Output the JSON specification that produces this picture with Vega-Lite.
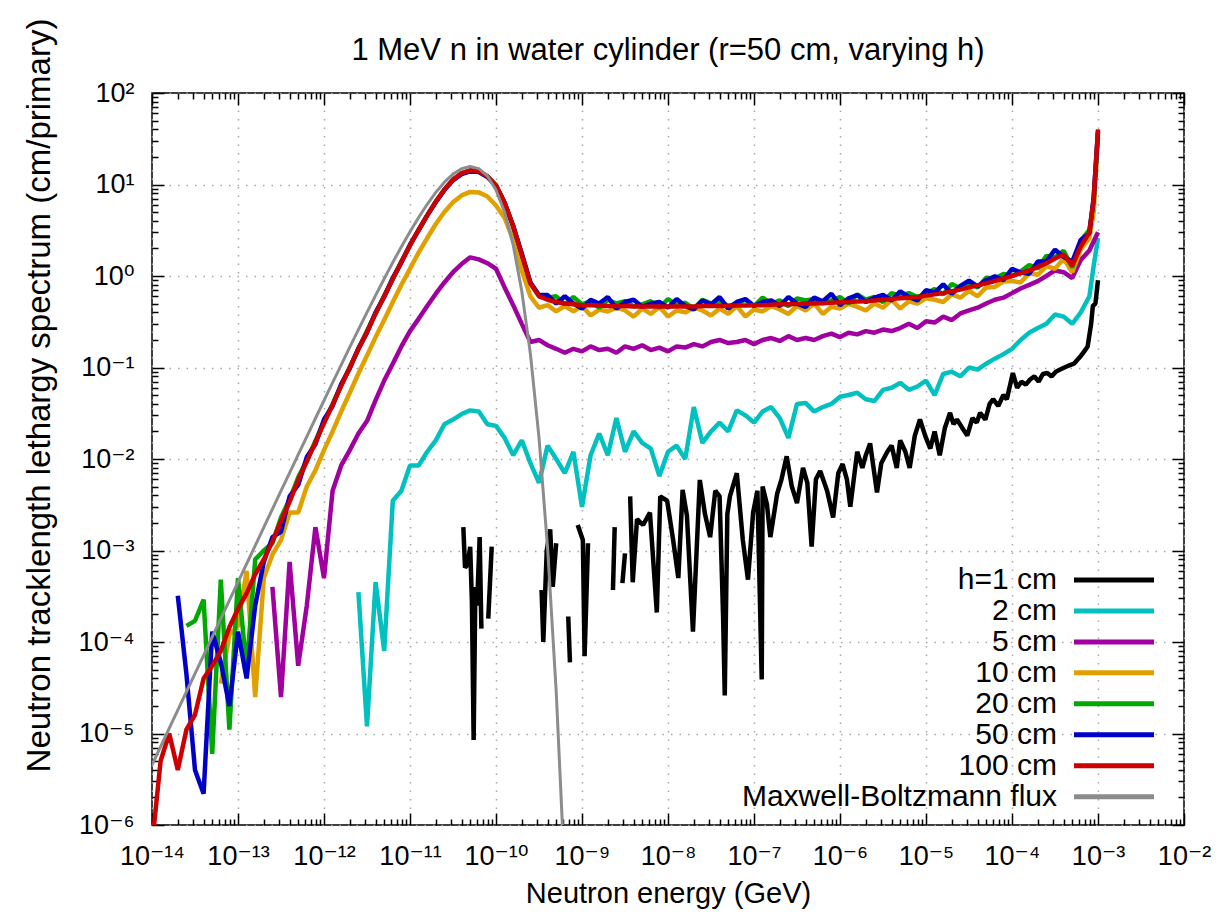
{
"$schema":"https://vega.github.io/schema/vega-lite/v6.json",
"width":1032,"height":732,
"autosize":{"type":"none"},
"padding":{"left":152,"top":93,"right":38,"bottom":95},
"background":"white",
"title":{"text":"1 MeV n in water cylinder (r=50 cm, varying h)","fontSize":31,"fontWeight":"normal","font":"Liberation Sans","color":"black","anchor":"middle","frame":"group","offset":35,"dy":122,"baseline":"alphabetic"},
"config":{
"view":{"stroke":"black","strokeWidth":1.5},
"font":"Liberation Sans",
"axis":{"domain":false,"labelColor":"black","tickColor":"black","titleColor":"black","titleFontWeight":"normal","labelFont":"Liberation Sans, DejaVu Sans","titleFont":"Liberation Sans"},
"legend":{"orient":"none","legendX":947,"legendY":472,"direction":"vertical","symbolType":"M-4,0H4","symbolSize":400,"symbolStrokeWidth":5,"labelFontSize":30,"labelFont":"Liberation Sans","labelColor":"black","labelAlign":"right","labelOffset":-72,"rowPadding":0.95,"padding":0,"labelLimit":600}
},
"datasets":{
"main":[
{"e":1e-14,"c100":6e-7,"mb":4.53e-6},
{"e":1.259e-14,"c100":5e-6,"mb":7.18e-6},
{"e":1.585e-14,"c100":1e-5,"mb":1.14e-5},
{"e":1.995e-14,"c50":3.2e-4,"c100":4e-6,"mb":1.8e-5},
{"e":2.512e-14,"c20":1.5e-4,"c50":4.5e-5,"c100":1.1e-5,"mb":2.86e-5},
{"e":3.162e-14,"c20":1.7e-4,"c50":4e-6,"c100":1.6e-5,"mb":4.52e-5},
{"e":3.981e-14,"c20":2.9e-4,"c50":2.2e-6,"c100":4e-5,"mb":7.16e-5},
{"e":5.012e-14,"c20":6e-6,"c50":1.3e-4,"c100":5.5e-5,"mb":1.135e-4},
{"e":6.31e-14,"c10":3.5e-5,"c20":4.8e-4,"c50":6e-5,"c100":8e-5,"mb":1.8e-4},
{"e":7.943e-14,"c10":1.2e-4,"c20":1.1e-5,"c50":2e-5,"c100":1.45e-4,"mb":2.85e-4},
{"e":1e-13,"c10":1.5e-4,"c20":5e-4,"c50":1.3e-4,"c100":2.3e-4,"mb":4.51e-4},
{"e":1.259e-13,"c10":6e-4,"c20":5e-5,"c50":4e-5,"c100":3.4e-4,"mb":7.14e-4},
{"e":1.585e-13,"c10":2.5e-5,"c20":8e-4,"c50":2.5e-4,"c100":5.5e-4,"mb":1.13e-3},
{"e":1.995e-13,"c10":5e-4,"c20":1e-3,"c50":7.5e-4,"c100":8e-4,"mb":1.79e-3},
{"e":2.512e-13,"c5":4e-4,"c10":9e-4,"c20":1.2e-3,"c50":1.4e-3,"c100":1.25e-3,"mb":2.83e-3},
{"e":3.162e-13,"c5":2.5e-5,"c10":1.3e-3,"c20":2.3e-3,"c50":1.6e-3,"c100":2.1e-3,"mb":4.48e-3},
{"e":3.981e-13,"c5":7.5e-4,"c10":2.6e-3,"c20":3.6e-3,"c50":3.9e-3,"c100":3.4e-3,"mb":7.07e-3},
{"e":5.012e-13,"c5":5.5e-5,"c10":2.6e-3,"c20":6.3e-3,"c50":5.2e-3,"c100":5.9e-3,"mb":0.01114},
{"e":6.31e-13,"c5":2.5e-4,"c10":5e-3,"c20":9.6e-3,"c50":0.0105,"c100":9.4e-3,"mb":0.01758},
{"e":7.943e-13,"c5":1.8e-3,"c10":7.5e-3,"c20":0.0158,"c50":0.0145,"c100":0.0152,"mb":0.0277},
{"e":1e-12,"c5":5e-4,"c10":0.0125,"c20":0.0255,"c50":0.027,"c100":0.0245,"mb":0.0436},
{"e":1.259e-12,"c5":4.5e-3,"c10":0.02,"c20":0.04,"c50":0.038,"c100":0.039,"mb":0.0683},
{"e":1.585e-12,"c5":8.5e-3,"c10":0.033,"c20":0.064,"c50":0.066,"c100":0.063,"mb":0.107},
{"e":1.995e-12,"c5":0.0125,"c10":0.053,"c20":0.101,"c50":0.098,"c100":0.1,"mb":0.167},
{"e":2.512e-12,"c2":3.5e-4,"c5":0.019,"c10":0.086,"c20":0.16,"c50":0.162,"c100":0.158,"mb":0.259},
{"e":3.162e-12,"c2":1.2e-5,"c5":0.026,"c10":0.135,"c20":0.25,"c50":0.24,"c100":0.245,"mb":0.4},
{"e":3.981e-12,"c2":4.5e-4,"c5":0.044,"c10":0.215,"c20":0.39,"c50":0.4,"c100":0.39,"mb":0.614},
{"e":5.012e-12,"c2":8e-5,"c5":0.072,"c10":0.33,"c20":0.61,"c50":0.59,"c100":0.6,"mb":0.933},
{"e":6.31e-12,"c2":3.5e-3,"c5":0.11,"c10":0.52,"c20":0.94,"c50":0.95,"c100":0.93,"mb":1.41},
{"e":7.943e-12,"c2":4.5e-3,"c5":0.17,"c10":0.8,"c20":1.44,"c50":1.4,"c100":1.43,"mb":2.09},
{"e":1e-11,"c2":8.5e-3,"c5":0.25,"c10":1.2,"c20":2.17,"c50":2.2,"c100":2.16,"mb":3.05},
{"e":1.259e-11,"c2":8.5e-3,"c5":0.34,"c10":1.8,"c20":3.2,"c50":3.15,"c100":3.2,"mb":4.36},
{"e":1.585e-11,"c2":0.012,"c5":0.47,"c10":2.6,"c20":4.6,"c50":4.6,"c100":4.6,"mb":6.08},
{"e":1.995e-11,"c2":0.016,"c5":0.64,"c10":3.7,"c20":6.5,"c50":6.4,"c100":6.5,"mb":8.2},
{"e":2.512e-11,"c2":0.024,"c5":0.85,"c10":5,"c20":8.8,"c50":8.7,"c100":8.8,"mb":10.6},
{"e":3.162e-11,"c2":0.027,"c5":1.1,"c10":6.4,"c20":11.3,"c50":11.1,"c100":11.3,"mb":13},
{"e":3.981e-11,"c2":0.031,"c5":1.35,"c10":7.6,"c20":13.2,"c50":13,"c100":13.3,"mb":14.9},
{"e":5.012e-11,"c2":0.034,"c5":1.6,"c10":8.3,"c20":14.2,"c50":13.9,"c100":14.3,"mb":15.7},
{"e":6.31e-11,"c2":0.033,"c5":1.52,"c10":8.2,"c20":13.9,"c50":13.7,"c100":14,"mb":14.9},
{"e":7.943e-11,"c2":0.024,"c5":1.38,"c10":7.4,"c20":12.2,"c50":12.1,"c100":12.3,"mb":12.4},
{"e":1e-10,"c2":0.023,"c5":1.2,"c10":5.9,"c20":9.8,"c50":9.7,"c100":9.8,"mb":8.72},
{"e":1.259e-10,"c2":0.017,"c5":0.75,"c10":4.3,"c20":6.3,"c50":6.3,"c100":6.3,"mb":4.98},
{"e":1.585e-10,"c2":0.011,"c5":0.48,"c10":2.5,"c20":3.5,"c50":3.5,"c100":3.5,"mb":2.18},
{"e":1.995e-10,"c2":0.016,"c5":0.3,"c10":1.15,"c20":1.72,"c50":1.75,"c100":1.7,"mb":0.682},
{"e":2.512e-10,"c2":0.009,"c5":0.19,"c10":0.6,"c20":0.84,"c50":0.85,"c100":0.83,"mb":0.141},
{"e":3.162e-10,"c2":0.0055,"c5":0.2,"c10":0.45,"c20":0.61,"c50":0.62,"c100":0.6,"mb":0.0171},
{"e":3.981e-10,"c2":0.014,"c5":0.175,"c10":0.48,"c20":0.58,"c50":0.62,"c100":0.55,"mb":1.06e-3},
{"e":5.012e-10,"c2":0.01,"c5":0.16,"c10":0.41,"c20":0.6,"c50":0.5,"c100":0.52,"mb":2.88e-5},
{"e":6.31e-10,"c2":0.007,"c5":0.145,"c10":0.47,"c20":0.49,"c50":0.6,"c100":0.5,"mb":2.7e-7},
{"e":7.943e-10,"c2":0.012,"c5":0.16,"c10":0.41,"c20":0.59,"c50":0.5,"c100":0.49},
{"e":1e-9,"c2":0.003,"c5":0.15,"c10":0.47,"c20":0.49,"c50":0.44,"c100":0.48},
{"e":1.259e-9,"c2":0.011,"c5":0.17,"c10":0.37,"c20":0.53,"c50":0.55,"c100":0.48},
{"e":1.585e-9,"c2":0.019,"c5":0.155,"c10":0.43,"c20":0.45,"c50":0.5,"c100":0.475},
{"e":1.995e-9,"c2":0.011,"c5":0.16,"c10":0.41,"c20":0.55,"c50":0.59,"c100":0.47},
{"e":2.512e-9,"c2":0.028,"c5":0.145,"c10":0.45,"c20":0.5,"c50":0.44,"c100":0.47},
{"e":3.162e-9,"c2":0.012,"c5":0.17,"c10":0.42,"c20":0.53,"c50":0.52,"c100":0.47},
{"e":3.981e-9,"c2":0.02,"c5":0.16,"c10":0.36,"c20":0.465,"c50":0.55,"c100":0.465},
{"e":5.012e-9,"c2":0.015,"c5":0.175,"c10":0.44,"c20":0.49,"c50":0.46,"c100":0.465},
{"e":6.31e-9,"c2":0.013,"c5":0.155,"c10":0.385,"c20":0.53,"c50":0.5,"c100":0.465},
{"e":7.943e-9,"c2":0.0065,"c5":0.165,"c10":0.46,"c20":0.45,"c50":0.52,"c100":0.465},
{"e":1e-8,"c2":0.012,"c5":0.15,"c10":0.36,"c20":0.56,"c50":0.45,"c100":0.465},
{"e":1.259e-8,"c2":0.014,"c5":0.17,"c10":0.42,"c20":0.48,"c50":0.56,"c100":0.465},
{"e":1.585e-8,"c2":0.01,"c5":0.165,"c10":0.4,"c20":0.51,"c50":0.47,"c100":0.465},
{"e":1.995e-8,"c2":0.037,"c5":0.18,"c10":0.45,"c20":0.44,"c50":0.43,"c100":0.465},
{"e":2.512e-8,"c2":0.015,"c5":0.17,"c10":0.42,"c20":0.55,"c50":0.54,"c100":0.47},
{"e":3.162e-8,"c2":0.02,"c5":0.19,"c10":0.37,"c20":0.5,"c50":0.49,"c100":0.47},
{"e":3.981e-8,"c2":0.025,"c5":0.2,"c10":0.44,"c20":0.53,"c50":0.59,"c100":0.47},
{"e":5.012e-8,"c2":0.02,"c5":0.185,"c10":0.385,"c20":0.47,"c50":0.44,"c100":0.47},
{"e":6.31e-8,"c2":0.034,"c5":0.19,"c10":0.47,"c20":0.5,"c50":0.52,"c100":0.475},
{"e":7.943e-8,"c2":0.03,"c5":0.2,"c10":0.36,"c20":0.55,"c50":0.56,"c100":0.475},
{"e":1e-7,"c2":0.025,"c5":0.18,"c10":0.43,"c20":0.47,"c50":0.47,"c100":0.48},
{"e":1.259e-7,"c2":0.033,"c5":0.2,"c10":0.41,"c20":0.58,"c50":0.52,"c100":0.48},
{"e":1.585e-7,"c2":0.037,"c5":0.21,"c10":0.47,"c20":0.5,"c50":0.54,"c100":0.485},
{"e":1.995e-7,"c2":0.028,"c5":0.195,"c10":0.43,"c20":0.54,"c50":0.47,"c100":0.49},
{"e":2.512e-7,"c2":0.017,"c5":0.22,"c10":0.385,"c20":0.47,"c50":0.59,"c100":0.49},
{"e":3.162e-7,"c2":0.04,"c5":0.2,"c10":0.47,"c20":0.57,"c50":0.5,"c100":0.495},
{"e":3.981e-7,"c2":0.041,"c5":0.21,"c10":0.42,"c20":0.54,"c50":0.46,"c100":0.5},
{"e":5.012e-7,"c2":0.033,"c5":0.2,"c10":0.5,"c20":0.56,"c50":0.58,"c100":0.5},
{"e":6.31e-7,"c2":0.037,"c5":0.22,"c10":0.385,"c20":0.505,"c50":0.53,"c100":0.505},
{"e":7.943e-7,"c2":0.04,"c5":0.235,"c10":0.46,"c20":0.54,"c50":0.64,"c100":0.51},
{"e":1e-6,"c2":0.048,"c5":0.215,"c10":0.44,"c20":0.59,"c50":0.48,"c100":0.515},
{"e":1.259e-6,"c2":0.05,"c5":0.24,"c10":0.5,"c20":0.5,"c50":0.57,"c100":0.52},
{"e":1.585e-6,"c2":0.053,"c5":0.23,"c10":0.46,"c20":0.63,"c50":0.62,"c100":0.525},
{"e":1.995e-6,"c2":0.045,"c5":0.25,"c10":0.42,"c20":0.55,"c50":0.52,"c100":0.53},
{"e":2.512e-6,"c2":0.043,"c5":0.24,"c10":0.5,"c20":0.59,"c50":0.58,"c100":0.54},
{"e":3.162e-6,"c2":0.057,"c5":0.26,"c10":0.45,"c20":0.52,"c50":0.62,"c100":0.55},
{"e":3.981e-6,"c2":0.06,"c5":0.25,"c10":0.55,"c20":0.65,"c50":0.54,"c100":0.56},
{"e":5.012e-6,"c2":0.068,"c5":0.27,"c10":0.44,"c20":0.61,"c50":0.68,"c100":0.57},
{"e":6.31e-6,"c2":0.057,"c5":0.3,"c10":0.53,"c20":0.65,"c50":0.59,"c100":0.58},
{"e":7.943e-6,"c2":0.062,"c5":0.27,"c10":0.5,"c20":0.59,"c50":0.54,"c100":0.59},
{"e":1e-5,"c2":0.072,"c5":0.32,"c10":0.57,"c20":0.64,"c50":0.7,"c100":0.61},
{"e":1.259e-5,"c2":0.05,"c5":0.31,"c10":0.55,"c20":0.72,"c50":0.66,"c100":0.63},
{"e":1.585e-5,"c2":0.085,"c5":0.36,"c10":0.52,"c20":0.63,"c50":0.81,"c100":0.65},
{"e":1.995e-5,"c2":0.09,"c5":0.33,"c10":0.63,"c20":0.82,"c50":0.64,"c100":0.68},
{"e":2.512e-5,"c2":0.08,"c5":0.39,"c10":0.58,"c20":0.73,"c50":0.78,"c100":0.71},
{"e":3.162e-5,"c2":0.1,"c5":0.42,"c10":0.69,"c20":0.83,"c50":0.89,"c100":0.75},
{"e":3.981e-5,"c2":0.095,"c5":0.45,"c10":0.6,"c20":0.75,"c50":0.77,"c100":0.79},
{"e":5.012e-5,"c2":0.11,"c5":0.5,"c10":0.75,"c20":0.96,"c50":0.9,"c100":0.83},
{"e":6.31e-5,"c2":0.125,"c5":0.55,"c10":0.76,"c20":0.94,"c50":0.99,"c100":0.88},
{"e":7.943e-5,"c2":0.14,"c5":0.58,"c10":0.87,"c20":1.05,"c50":0.9,"c100":0.94},
{"e":1e-4,"c2":0.16,"c5":0.65,"c10":0.88,"c20":1,"c50":1.2,"c100":1},
{"e":1.259e-4,"c2":0.2,"c5":0.73,"c10":0.85,"c20":1.12,"c50":1.09,"c100":1.07},
{"e":1.585e-4,"c2":0.24,"c5":0.8,"c10":1.07,"c20":1.32,"c50":1.06,"c100":1.15},
{"e":1.995e-4,"c2":0.27,"c5":0.88,"c10":1.03,"c20":1.21,"c50":1.44,"c100":1.25},
{"e":2.512e-4,"c2":0.3,"c5":1,"c10":1.28,"c20":1.66,"c50":1.45,"c100":1.38},
{"e":3.162e-4,"c2":0.38,"c5":1.15,"c10":1.2,"c20":1.6,"c50":1.94,"c100":1.55},
{"e":3.981e-4,"c2":0.36,"c5":1.1,"c10":1.55,"c20":1.89,"c50":1.62,"c100":1.72},
{"e":5.012e-4,"c2":0.3,"c5":0.95,"c10":1.1,"c20":1.24,"c50":1.43,"c100":1.3},
{"e":6.31e-4,"c2":0.4,"c5":1.5,"c10":1.95,"c20":2.44,"c50":2.48,"c100":2.1},
{"e":7.943e-4,"c2":0.6,"c5":1.9,"c10":2.6,"c20":3.2,"c50":2.94,"c100":3},
{"e":8.913e-4,"c2":1.3,"c5":2.4,"c10":5,"c20":6.5,"c50":7.3,"c100":7},
{"e":1e-3,"c2":2.6,"c5":3,"c10":35,"c20":37,"c50":38,"c100":40}
],
"black":[
{"e":4.169e-11,"v":1.8e-3,"g":1},{"e":4.365e-11,"v":6.5e-4,"g":1},{"e":4.677e-11,"v":7e-4,"g":1},{"e":5.012e-11,"v":1.1e-3,"g":1},{"e":5.248e-11,"v":2.7e-4,"g":1},{"e":5.495e-11,"v":8.5e-6,"g":1},{"e":5.754e-11,"v":4e-4,"g":1},{"e":6.026e-11,"v":2.5e-4,"g":1},{"e":6.457e-11,"v":1.4e-3,"g":1},{"e":6.761e-11,"v":1.4e-4,"g":1},
{"e":8.128e-11,"v":1.8e-4,"g":2},{"e":8.913e-11,"v":1.1e-3,"g":2},
{"e":3.388e-10,"v":3.7e-4,"g":3},{"e":3.548e-10,"v":1e-4,"g":3},{"e":3.89e-10,"v":1e-3,"g":3},{"e":4.266e-10,"v":1.7e-3,"g":3},{"e":4.571e-10,"v":4e-4,"g":3},{"e":5.012e-10,"v":1.2e-3,"g":3},
{"e":6.918e-10,"v":1.9e-4,"g":4},{"e":7.244e-10,"v":6e-5,"g":4},
{"e":8.913e-10,"v":1.9e-3,"g":5},{"e":1.023e-9,"v":1.3e-3,"g":5},{"e":1.072e-9,"v":7e-5,"g":5},{"e":1.175e-9,"v":1.2e-3,"g":5},
{"e":2.291e-9,"v":3.7e-4,"g":6},{"e":2.399e-9,"v":1.8e-3,"g":6},
{"e":2.951e-9,"v":4.4e-4,"g":7},{"e":3.162e-9,"v":9.3e-4,"g":7},
{"e":3.631e-9,"v":3.9e-3,"g":8},{"e":3.89e-9,"v":4.5e-4,"g":8},{"e":4.365e-9,"v":2.2e-3,"g":8},{"e":5.129e-9,"v":1.9e-3,"g":8},{"e":6.166e-9,"v":2.6e-3,"g":8},{"e":7.413e-9,"v":2.1e-4,"g":8},{"e":8.128e-9,"v":3.9e-3,"g":8},{"e":9.772e-9,"v":3.5e-3,"g":8},
{"e":1.148e-8,"v":1.3e-3,"g":8},{"e":1.318e-8,"v":5e-4,"g":8},{"e":1.479e-8,"v":4.6e-3,"g":8},{"e":1.66e-8,"v":2.4e-3,"g":8},{"e":1.95e-8,"v":1.3e-4,"g":8},{"e":2.344e-8,"v":5.9e-3,"g":8},{"e":2.692e-8,"v":2.5e-3,"g":8},{"e":3.09e-8,"v":1.4e-3,"g":8},{"e":3.548e-8,"v":4.5e-3,"g":8},{"e":3.981e-8,"v":3.9e-3,"g":8},{"e":4.365e-8,"v":2e-4,"g":8},{"e":4.571e-8,"v":2.6e-5,"g":8},{"e":4.898e-8,"v":2.5e-3,"g":8},{"e":5.248e-8,"v":3.9e-3,"g":8},{"e":6.31e-8,"v":7e-3,"g":8},{"e":7.413e-8,"v":1.3e-3,"g":8},{"e":8.511e-8,"v":4.8e-4,"g":8},{"e":9.772e-8,"v":2.6e-3,"g":8},
{"e":1.096e-7,"v":4.5e-3,"g":8},{"e":1.23e-7,"v":3.9e-5,"g":8},{"e":1.259e-7,"v":5e-3,"g":8},{"e":1.413e-7,"v":3.2e-3,"g":8},{"e":1.549e-7,"v":1.4e-3,"g":8},{"e":1.862e-7,"v":4.2e-3,"g":8},{"e":2.089e-7,"v":6e-3,"g":8},{"e":2.399e-7,"v":0.0107,"g":8},{"e":2.754e-7,"v":5e-3,"g":8},{"e":3.162e-7,"v":3.3e-3,"g":8},{"e":3.715e-7,"v":8e-3,"g":8},{"e":4.169e-7,"v":5.5e-3,"g":8},{"e":4.677e-7,"v":1.1e-3,"g":8},{"e":5.248e-7,"v":6e-3,"g":8},{"e":5.888e-7,"v":7.4e-3,"g":8},{"e":7.079e-7,"v":4.5e-3,"g":8},{"e":8.318e-7,"v":2.3e-3,"g":8},{"e":9.55e-7,"v":7e-3,"g":8},
{"e":1.072e-6,"v":8.8e-3,"g":8},{"e":1.202e-6,"v":6e-3,"g":8},{"e":1.318e-6,"v":3e-3,"g":8},{"e":1.585e-6,"v":0.012,"g":8},{"e":1.82e-6,"v":8e-3,"g":8},{"e":1.995e-6,"v":0.011,"g":8},{"e":2.239e-6,"v":0.0148,"g":8},{"e":2.692e-6,"v":4.3e-3,"g":8},{"e":3.02e-6,"v":9e-3,"g":8},{"e":3.548e-6,"v":0.012,"g":8},{"e":3.981e-6,"v":0.014,"g":8},{"e":4.571e-6,"v":8e-3,"g":8},{"e":5.012e-6,"v":0.016,"g":8},{"e":5.754e-6,"v":0.012,"g":8},{"e":6.457e-6,"v":8e-3,"g":8},{"e":7.413e-6,"v":0.018,"g":8},{"e":8.511e-6,"v":0.027,"g":8},{"e":9.772e-6,"v":0.018,"g":8},
{"e":1.122e-5,"v":0.013,"g":8},{"e":1.259e-5,"v":0.02,"g":8},{"e":1.445e-5,"v":0.011,"g":8},{"e":1.66e-5,"v":0.022,"g":8},{"e":1.905e-5,"v":0.032,"g":8},{"e":2.089e-5,"v":0.024,"g":8},{"e":2.291e-5,"v":0.027,"g":8},{"e":2.63e-5,"v":0.022,"g":8},{"e":3.02e-5,"v":0.018,"g":8},{"e":3.467e-5,"v":0.028,"g":8},{"e":3.89e-5,"v":0.025,"g":8},{"e":4.266e-5,"v":0.032,"g":8},{"e":4.898e-5,"v":0.027,"g":8},{"e":5.495e-5,"v":0.04,"g":8},{"e":6.026e-5,"v":0.045,"g":8},{"e":6.918e-5,"v":0.038,"g":8},{"e":7.943e-5,"v":0.05,"g":8},{"e":8.71e-5,"v":0.045,"g":8},
{"e":1.023e-4,"v":0.087,"g":8},{"e":1.148e-4,"v":0.06,"g":8},{"e":1.288e-4,"v":0.07,"g":8},{"e":1.445e-4,"v":0.065,"g":8},{"e":1.622e-4,"v":0.074,"g":8},{"e":1.82e-4,"v":0.08,"g":8},{"e":2.042e-4,"v":0.07,"g":8},{"e":2.291e-4,"v":0.085,"g":8},{"e":2.57e-4,"v":0.087,"g":8},{"e":2.884e-4,"v":0.08,"g":8},{"e":3.236e-4,"v":0.09,"g":8},{"e":3.631e-4,"v":0.095,"g":8},{"e":4.074e-4,"v":0.1,"g":8},{"e":4.571e-4,"v":0.105,"g":8},{"e":5.248e-4,"v":0.11,"g":8},{"e":6.166e-4,"v":0.13,"g":8},{"e":6.918e-4,"v":0.15,"g":8},{"e":7.586e-4,"v":0.17,"g":8},{"e":8.318e-4,"v":0.3,"g":8},{"e":8.71e-4,"v":0.47,"g":8},{"e":9.333e-4,"v":0.5,"g":8},{"e":1e-3,"v":0.9,"g":8}
]
},
"encoding":{"x":{"field":"e","type":"quantitative","scale":{"type":"log","domain":[1e-14,0.01],"nice":false},"axis":null}},
"layer":[
{"data":{"name":"black"},"mark":{"type":"line","clip":true,"strokeWidth":4.5,"strokeJoin":"bevel","invalid":"filter"},
 "encoding":{"y":{"field":"v","type":"quantitative","scale":{"type":"log","domain":[1e-6,100],"nice":false},"axis":null},"detail":{"field":"g","type":"nominal"},
 "color":{"datum":"h=1 cm","type":"nominal","scale":{"domain":["h=1 cm","2 cm","5 cm","10 cm","20 cm","50 cm","100 cm","Maxwell-Boltzmann flux"],"range":["#000000","#00c0c0","#a000a0","#e0a000","#00a800","#0000c8","#cc0000","#8c8c8c"]},"legend":{"title":null}}}},
{"data":{"name":"main"},"mark":{"type":"line","clip":true,"strokeWidth":4.5,"strokeJoin":"bevel","invalid":"filter"},
 "encoding":{"y":{"field":"c2","type":"quantitative","scale":{"type":"log","domain":[1e-6,100],"nice":false},"axis":null},
 "color":{"datum":"2 cm","type":"nominal","scale":{"domain":["h=1 cm","2 cm","5 cm","10 cm","20 cm","50 cm","100 cm","Maxwell-Boltzmann flux"],"range":["#000000","#00c0c0","#a000a0","#e0a000","#00a800","#0000c8","#cc0000","#8c8c8c"]},"legend":{"title":null}}}},
{"data":{"name":"main"},"mark":{"type":"line","clip":true,"strokeWidth":4.5,"strokeJoin":"bevel","invalid":"filter"},
 "encoding":{"y":{"field":"c5","type":"quantitative","scale":{"type":"log","domain":[1e-6,100],"nice":false},"axis":null},
 "color":{"datum":"5 cm","type":"nominal","scale":{"domain":["h=1 cm","2 cm","5 cm","10 cm","20 cm","50 cm","100 cm","Maxwell-Boltzmann flux"],"range":["#000000","#00c0c0","#a000a0","#e0a000","#00a800","#0000c8","#cc0000","#8c8c8c"]},"legend":{"title":null}}}},
{"data":{"name":"main"},"mark":{"type":"line","clip":true,"strokeWidth":4.5,"strokeJoin":"bevel","invalid":"filter"},
 "encoding":{"y":{"field":"c10","type":"quantitative","scale":{"type":"log","domain":[1e-6,100],"nice":false},"axis":null},
 "color":{"datum":"10 cm","type":"nominal","scale":{"domain":["h=1 cm","2 cm","5 cm","10 cm","20 cm","50 cm","100 cm","Maxwell-Boltzmann flux"],"range":["#000000","#00c0c0","#a000a0","#e0a000","#00a800","#0000c8","#cc0000","#8c8c8c"]},"legend":{"title":null}}}},
{"data":{"name":"main"},"mark":{"type":"line","clip":true,"strokeWidth":4.5,"strokeJoin":"bevel","invalid":"filter"},
 "encoding":{"y":{"field":"c20","type":"quantitative","scale":{"type":"log","domain":[1e-6,100],"nice":false},"axis":null},
 "color":{"datum":"20 cm","type":"nominal","scale":{"domain":["h=1 cm","2 cm","5 cm","10 cm","20 cm","50 cm","100 cm","Maxwell-Boltzmann flux"],"range":["#000000","#00c0c0","#a000a0","#e0a000","#00a800","#0000c8","#cc0000","#8c8c8c"]},"legend":{"title":null}}}},
{"data":{"name":"main"},"mark":{"type":"line","clip":true,"strokeWidth":4.5,"strokeJoin":"bevel","invalid":"filter"},
 "encoding":{"y":{"field":"c50","type":"quantitative","scale":{"type":"log","domain":[1e-6,100],"nice":false},"axis":null},
 "color":{"datum":"50 cm","type":"nominal","scale":{"domain":["h=1 cm","2 cm","5 cm","10 cm","20 cm","50 cm","100 cm","Maxwell-Boltzmann flux"],"range":["#000000","#00c0c0","#a000a0","#e0a000","#00a800","#0000c8","#cc0000","#8c8c8c"]},"legend":{"title":null}}}},
{"data":{"name":"main"},"mark":{"type":"line","clip":true,"strokeWidth":4.5,"strokeJoin":"bevel","invalid":"filter"},
 "encoding":{
 "x":{"field":"e","type":"quantitative","scale":{"type":"log","domain":[1e-14,0.01],"nice":false},
  "axis":{"orient":"bottom","title":"Neutron energy (GeV)","titleFontSize":29,"titleBaseline":"alphabetic","titleY":77,"tickCount":120,
  "labelExpr":"abs(log(datum.value)/LN10-round(log(datum.value)/LN10))<0.01 ? '10'+(round(log(datum.value)/LN10)<0?'⁻':'')+(abs(round(log(datum.value)/LN10))>=10?'¹':'')+substring('⁰¹²³⁴⁵⁶⁷⁸⁹',abs(round(log(datum.value)/LN10))%10,abs(round(log(datum.value)/LN10))%10+1) : ''",
  "labelFontSize":27,"labelPadding":30,"labelOverlap":false,"labelBound":false,"labelFlush":false,
  "grid":true,"gridColor":"#a8a8a8","gridDash":[1.5,7],"gridWidth":1.5,
  "gridOpacity":{"condition":{"test":"abs(log(datum.value)/LN10-round(log(datum.value)/LN10))<0.01","value":1},"value":0},
  "tickSize":{"condition":{"test":"abs(log(datum.value)/LN10-round(log(datum.value)/LN10))<0.01","value":-12},"value":-6},"tickWidth":1.5}},
 "y":{"field":"c100","type":"quantitative","scale":{"type":"log","domain":[1e-6,100],"nice":false},
  "axis":{"orient":"left","title":"Neutron tracklength lethargy spectrum    (cm/primary)","titleFontSize":33,"titleBaseline":"alphabetic","titleX":-103,"titleY":302,"titleAngle":270,"tickCount":100,
  "labelExpr":"abs(log(datum.value)/LN10-round(log(datum.value)/LN10))<0.01 ? '10'+(round(log(datum.value)/LN10)<0?'⁻':'')+(abs(round(log(datum.value)/LN10))>=10?'¹':'')+substring('⁰¹²³⁴⁵⁶⁷⁸⁹',abs(round(log(datum.value)/LN10))%10,abs(round(log(datum.value)/LN10))%10+1) : ''",
  "labelFontSize":27,"labelPadding":30,"labelOverlap":false,"labelBound":false,"labelFlush":false,
  "grid":true,"gridColor":"#a8a8a8","gridDash":[1.5,7],"gridWidth":1.5,
  "gridOpacity":{"condition":{"test":"abs(log(datum.value)/LN10-round(log(datum.value)/LN10))<0.01","value":1},"value":0},
  "tickSize":{"condition":{"test":"abs(log(datum.value)/LN10-round(log(datum.value)/LN10))<0.01","value":-12},"value":-6},"tickWidth":1.5}},
 "color":{"datum":"100 cm","type":"nominal","scale":{"domain":["h=1 cm","2 cm","5 cm","10 cm","20 cm","50 cm","100 cm","Maxwell-Boltzmann flux"],"range":["#000000","#00c0c0","#a000a0","#e0a000","#00a800","#0000c8","#cc0000","#8c8c8c"]},"legend":{"title":null}}}},
{"data":{"name":"main"},"mark":{"type":"line","clip":true,"strokeWidth":3,"strokeJoin":"round","invalid":"filter"},
 "encoding":{
 "x":{"field":"e","type":"quantitative","scale":{"type":"log","domain":[1e-14,0.01],"nice":false},
  "axis":{"orient":"top","title":null,"labels":false,"grid":false,"tickCount":120,
  "tickSize":{"condition":{"test":"abs(log(datum.value)/LN10-round(log(datum.value)/LN10))<0.01","value":-12},"value":-6},"tickWidth":1.5}},
 "y":{"field":"mb","type":"quantitative","scale":{"type":"log","domain":[1e-6,100],"nice":false},
  "axis":{"orient":"right","title":null,"labels":false,"grid":false,"tickCount":100,
  "tickSize":{"condition":{"test":"abs(log(datum.value)/LN10-round(log(datum.value)/LN10))<0.01","value":-12},"value":-6},"tickWidth":1.5}},
 "color":{"datum":"Maxwell-Boltzmann flux","type":"nominal","scale":{"domain":["h=1 cm","2 cm","5 cm","10 cm","20 cm","50 cm","100 cm","Maxwell-Boltzmann flux"],"range":["#000000","#00c0c0","#a000a0","#e0a000","#00a800","#0000c8","#cc0000","#8c8c8c"]},"legend":{"title":null}}}}
]
}
